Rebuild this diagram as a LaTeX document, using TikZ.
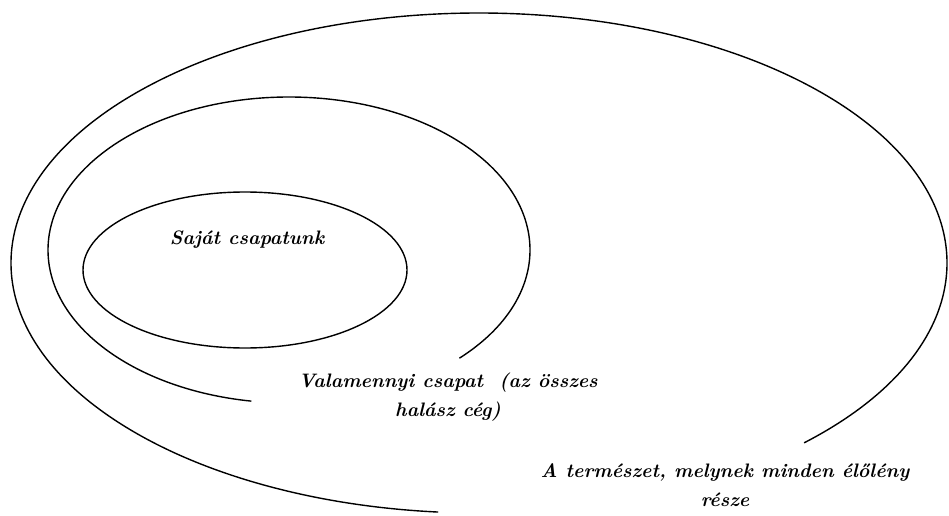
\documentclass[tikz,border=0pt]{standalone}
\usetikzlibrary{shapes.geometric}
\tikzset{
  ring/.style={draw=black, line width=1.4pt},
  lbl/.style={font=\fontsize{19.5}{29}\selectfont\bfseries\itshape, align=center, inner sep=0pt},
}
\begin{document}
\begin{tikzpicture}[x=1pt,y=1pt]
\useasboundingbox[fill=white] (0,0) rectangle (949,515);
% outer ring (broken at bottom right)
\draw[ring] ([shift={(-46:468 and 250)}]479,252) arc[start angle=-46, end angle=265, x radius=468, y radius=250];
% middle ring (broken at bottom)
\draw[ring] ([shift={(-45:241 and 153)}]289,265) arc[start angle=-45, end angle=261, x radius=241, y radius=153];
% inner ring
\node[ring, ellipse, minimum width=324pt, minimum height=156pt, inner sep=0pt] (inner) at (245,245) {};
\node[lbl] (own) at (247,275) {Saját csapatunk};
\node[lbl] (all) at (448,118) {Valamennyi csapat~~(az összes\\halász cég)};
\node[lbl] (nature) at (725,30) {A természet, melynek minden élőlény\\része};
\end{tikzpicture}
\end{document}
